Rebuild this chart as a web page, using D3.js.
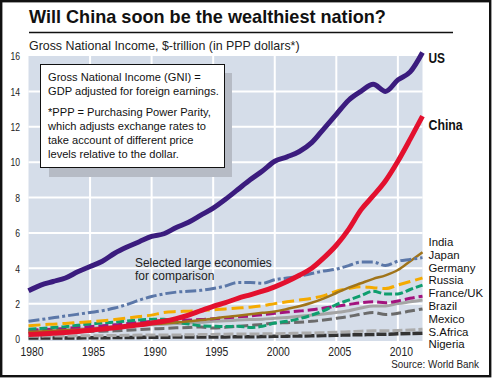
<!DOCTYPE html>
<html><head><meta charset="utf-8">
<script src="https://cdn.jsdelivr.net/npm/d3@7"></script>
<style>html,body{margin:0;padding:0;background:#fff;}svg{display:block;}</style>
</head><body>
<svg id="chart" width="492" height="379"></svg>
<script>
// ---------- DATA ----------
const years = [1980,1981,1982,1983,1984,1985,1986,1987,1988,1989,1990,1991,1992,1993,1994,1995,1996,1997,1998,1999,2000,2001,2002,2003,2004,2005,2006,2007,2008,2009,2010,2011,2012];
const usValues      = [2.73,3.05,3.25,3.45,3.8,4.1,4.4,4.85,5.2,5.5,5.8,5.95,6.3,6.6,7.0,7.4,7.9,8.45,9.0,9.5,10.05,10.3,10.6,11.1,11.9,12.7,13.5,14.0,14.4,14.0,14.65,15.1,16.2];
const chinaValues   = [0.25,0.28,0.32,0.37,0.43,0.5,0.56,0.63,0.72,0.8,0.9,1.0,1.15,1.35,1.6,1.85,2.05,2.3,2.5,2.7,2.95,3.25,3.6,4.0,4.6,5.3,6.2,7.3,8.1,8.95,10.05,11.3,12.6];
const indiaValues   = [0.4,0.43,0.46,0.5,0.52,0.55,0.6,0.65,0.72,0.8,0.85,0.88,0.93,1.0,1.07,1.15,1.25,1.32,1.4,1.48,1.55,1.7,1.85,2.05,2.3,2.6,2.9,3.15,3.4,3.6,3.9,4.4,4.9];
const japanValues   = [1.0,1.1,1.2,1.3,1.4,1.5,1.6,1.75,1.95,2.2,2.4,2.55,2.65,2.7,2.75,2.85,3.0,3.2,3.2,3.15,3.35,3.45,3.55,3.7,3.85,3.95,4.15,4.35,4.35,4.15,4.4,4.5,4.6];
const germanyValues = [0.75,0.8,0.84,0.88,0.93,0.98,1.03,1.1,1.18,1.27,1.35,1.5,1.55,1.57,1.6,1.65,1.7,1.75,1.8,1.88,2.0,2.1,2.2,2.3,2.45,2.7,2.85,2.95,2.9,2.85,3.05,3.25,3.45];
const russiaValues  = [0.55,0.6,0.65,0.7,0.78,0.85,0.9,0.95,1.02,1.08,1.12,1.12,0.95,0.85,0.75,0.72,0.7,0.72,0.65,0.72,0.9,1.0,1.15,1.35,1.6,1.95,2.2,2.45,2.7,2.55,2.55,2.8,3.05];
const franceUkValues= [0.5,0.53,0.56,0.6,0.65,0.7,0.75,0.8,0.87,0.93,1.0,1.03,1.05,1.07,1.1,1.15,1.2,1.25,1.3,1.37,1.45,1.52,1.58,1.65,1.75,1.85,1.95,2.05,2.1,2.05,2.15,2.3,2.42];
const brazilValues  = [0.45,0.48,0.5,0.52,0.56,0.6,0.65,0.7,0.73,0.77,0.8,0.84,0.87,0.9,0.95,1.0,1.03,1.07,1.1,1.12,1.17,1.22,1.28,1.35,1.42,1.5,1.6,1.75,1.87,1.87,2.0,2.1,2.2];
const mexicoValues  = [0.33,0.36,0.38,0.38,0.4,0.43,0.44,0.46,0.5,0.53,0.57,0.6,0.63,0.65,0.68,0.62,0.66,0.72,0.77,0.82,0.9,0.92,0.95,1.0,1.08,1.17,1.27,1.4,1.5,1.38,1.45,1.58,1.7];
const sAfricaValues = [0.15,0.16,0.17,0.17,0.18,0.18,0.19,0.2,0.21,0.22,0.22,0.23,0.23,0.24,0.25,0.26,0.27,0.28,0.28,0.29,0.3,0.31,0.33,0.34,0.36,0.38,0.41,0.44,0.46,0.46,0.48,0.51,0.55];
const nigeriaValues = [0.06,0.06,0.06,0.06,0.06,0.07,0.07,0.08,0.08,0.09,0.1,0.1,0.11,0.11,0.11,0.12,0.12,0.13,0.13,0.14,0.15,0.16,0.17,0.18,0.2,0.21,0.23,0.24,0.26,0.27,0.29,0.31,0.33];

const xTicks = [1980,1985,1990,1995,2000,2005,2010];
const yTicks = [0,2,4,6,8,10,12,14,16];
const otherLabels = ["India","Japan","Germany","Russia","France/UK","Brazil","Mexico","S.Africa","Nigeria"];
const titleText = "Will China soon be the wealthiest nation?";
const subtitleText = "Gross National Income, $-trillion (in PPP dollars*)";
const noteLines1 = ["Gross National Income (GNI) =","GDP adjusted for foreign earnings."];
const noteLines2 = ["*PPP = Purchasing Power Parity,","which adjusts exchange rates to","take account of different price","levels relative to the dollar."];
const selectedLines = ["Selected large economies","for comparison"];
const sourceText = "Source: World Bank";

// ---------- STYLES ----------
const series = [
  {name:"Nigeria",  values:nigeriaValues,  color:"#333333", width:3.5, dash:"10,2"},
  {name:"S.Africa", values:sAfricaValues,  color:"#ababab", width:3,   dash:"10,3"},
  {name:"Mexico",   values:mexicoValues,   color:"#6b6b6b", width:3,   dash:"10,4"},
  {name:"Brazil",   values:brazilValues,   color:"#a4a4a4", width:3,   dash:null},
  {name:"France/UK",values:franceUkValues, color:"#a3137e", width:3,   dash:"10,4"},
  {name:"Russia",   values:russiaValues,   color:"#0f9e6e", width:3,   dash:"8,3"},
  {name:"Germany",  values:germanyValues,  color:"#f4aa00", width:3,   dash:"12,5"},
  {name:"India",    values:indiaValues,    color:"#a0741a", width:2.5, dash:null},
  {name:"Japan",    values:japanValues,    color:"#5b77a8", width:3,   dash:"11,3,3,3"},
  {name:"China",    values:chinaValues,    color:"#e3102e", width:5,   dash:null},
  {name:"US",       values:usValues,       color:"#3b1c7e", width:5,   dash:null}
];
const FONT = "'Liberation Sans', Arial, Helvetica, sans-serif";

const svg = d3.select("#chart");
const x = d3.scaleLinear().domain([1980, 2012]).range([28.5, 422.5]);
const y = d3.scaleLinear().domain([0, 16]).range([339, 56]);
const plotBottom = 341;

function txt(parent, str, px, py, o) {
  const t = parent.append("text")
    .attr("font-family", FONT).attr("font-size", o.size)
    .attr("font-weight", o.weight || "normal")
    .attr("text-anchor", o.anchor || "start")
    .attr("fill", o.fill || "#111").text(str);
  let sx = o.sx || 1;
  if (o.width) sx = o.width / t.node().getComputedTextLength();
  t.attr("transform", `translate(${px},${py}) scale(${sx},1)`);
  return t;
}

// frame
svg.append("rect").attr("x",1.2).attr("y",1.2).attr("width",489).attr("height",375)
  .attr("fill","#fff").attr("stroke","#111").attr("stroke-width",2.4);

// title
txt(svg, titleText, 29, 22.5, {size:18, weight:"bold", width:357});
svg.append("line").attr("x1",29).attr("x2",453).attr("y1",32.5).attr("y2",32.5)
  .attr("stroke","#111").attr("stroke-width",1.3);
txt(svg, subtitleText, 29, 50, {size:12.5, width:271, fill:"#222"});

// plot bg
svg.append("rect").attr("x", x(1980)).attr("y", y(16))
  .attr("width", x(2012)-x(1980)).attr("height", plotBottom - y(16)).attr("fill","#d5dde9");

// grid
const grid = svg.append("g").attr("stroke","#fff").attr("stroke-width",2);
grid.selectAll("line.h").data(yTicks.filter(v => v>0 && v<16)).join("line")
  .attr("x1", x(1980)).attr("x2", x(2012)).attr("y1", d=>y(d)).attr("y2", d=>y(d));
grid.selectAll("line.v").data(xTicks.filter(v => v>1980)).join("line")
  .attr("x1", d=>x(d)).attr("x2", d=>x(d)).attr("y1", y(16)).attr("y2", plotBottom);

// axes
const gx = svg.append("g").attr("transform", "translate(0,355.5)")
  .call(d3.axisBottom(x).tickValues(xTicks).tickSize(0).tickPadding(0).tickFormat(d3.format("d")));
gx.select(".domain").remove();
gx.selectAll("text").attr("dy", null).attr("y", 0)
  .attr("font-family", FONT).attr("font-size", 12.5).attr("fill","#222")
  .attr("transform","translate(3,0) scale(0.83,1)");

const gy = svg.append("g").attr("transform", "translate(20,0)")
  .call(d3.axisLeft(y).tickValues(yTicks).tickSize(0).tickPadding(0));
gy.select(".domain").remove();
gy.selectAll("text").attr("dy", null).attr("y", 3.8)
  .attr("font-family", FONT).attr("font-size", 10.5).attr("fill","#222")
  .attr("transform","scale(0.82,1)");

// note box
svg.append("rect").attr("x",49).attr("y",73).attr("width",183).attr("height",104).attr("fill","#b6bbc5");
svg.append("rect").attr("x",40.5).attr("y",64.5).attr("width",184).attr("height",103)
  .attr("fill","#fff").attr("stroke","#111").attr("stroke-width",1);
const noteG = svg.append("g");
const probe = txt(noteG, noteLines1[1], 0, 0, {size:11});
const noteSx = 171 / probe.node().getComputedTextLength();
probe.remove();
noteLines1.forEach((l,i) => txt(noteG, l, 48, 81 + i*13.8, {size:11, sx:noteSx}));
noteLines2.forEach((l,i) => txt(noteG, l, 48, 115.6 + i*14, {size:11, sx:noteSx}));

// lines
const line = d3.line().x((d,i) => x(years[i])).y(d => y(d)).curve(d3.curveMonotoneX);
svg.append("g").selectAll("path").data(series).join("path")
  .attr("d", d => line(d.values))
  .attr("fill","none").attr("stroke", d=>d.color).attr("stroke-width", d=>d.width)
  .attr("stroke-dasharray", d=>d.dash).attr("stroke-linejoin","round");

// labels
txt(svg, "US", 428.5, y(usValues[usValues.length-1]) + 11, {size:14, weight:"bold", sx:0.85});
txt(svg, "China", 428.5, y(chinaValues[chinaValues.length-1]) + 14, {size:14, weight:"bold", sx:0.88});
otherLabels.forEach((l,i) => txt(svg, l, 428.5, 246 + i*12.8, {size:11.2, sx:1.02}));

selectedLines.forEach((l,i) => txt(svg, l, 135, 266.8 + i*13.5, {size:12, width: i===0 ? 137 : null, sx:1, fill:"#222"}));
txt(svg, sourceText, 479, 368, {size:11, anchor:"end", sx:0.9, fill:"#222"});
</script>
</body></html>
